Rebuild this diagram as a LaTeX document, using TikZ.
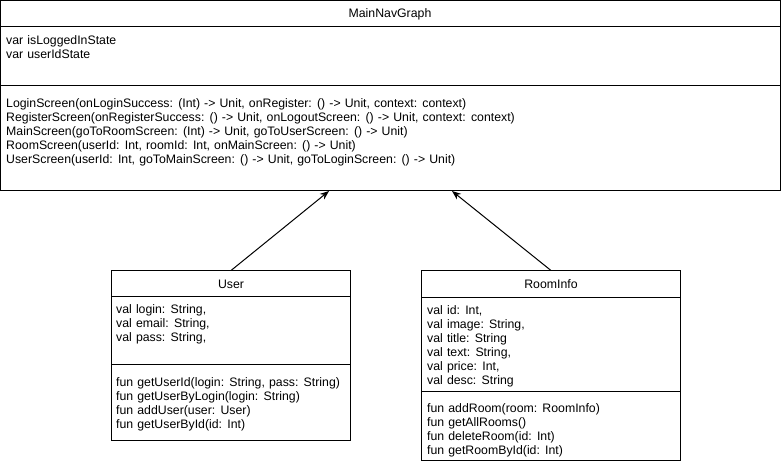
\documentclass[tikz,border=0pt]{standalone}
\usepackage{fontspec}
\setmainfont[WordSpace=1.2]{Liberation Sans}
\usetikzlibrary{arrows.meta}
\begin{document}
\begin{tikzpicture}[x=1pt,y=-1pt,
  box/.style={draw, line width=1pt, anchor=north west, inner sep=0pt, outer sep=0pt},
  txt/.style={anchor=base west, inner sep=0pt, font=\fontsize{12.3}{14}\selectfont},
  ttl/.style={anchor=base, inner sep=0pt, font=\fontsize{12.3}{14}\selectfont},
  divider/.style={line width=1pt},
  inh/.style={line width=1pt, -{Stealth[length=9pt,width=7pt]}}]
\useasboundingbox (0,0) rectangle (781,464);

% MainNavGraph
\node[box, minimum width=780pt, minimum height=190pt] (main) at (0.5,0.5) {};
\draw[divider] ([yshift=-26pt]main.north west) -- ([yshift=-26pt]main.north east);
\draw[divider] ([yshift=-85pt]main.north west) -- ([yshift=-85pt]main.north east);
\node[ttl] (mainT) at (390,17.5) {MainNavGraph};
\node[txt] (ma1) at (6,44.3) {var isLoggedInState};
\node[txt] (ma2) at (6,58.3) {var userIdState};
\node[txt] (mm1) at (6,107.5) {LoginScreen(onLoginSuccess: (Int) -> Unit, onRegister: () -> Unit, context: context)};
\node[txt] (mm2) at (6,121.5) {RegisterScreen(onRegisterSuccess: () -> Unit, onLogoutScreen: () -> Unit, context: context)};
\node[txt] (mm3) at (6,135.5) {MainScreen(goToRoomScreen: (Int) -> Unit, goToUserScreen: () -> Unit)};
\node[txt] (mm4) at (6,149.5) {RoomScreen(userId: Int, roomId: Int, onMainScreen: () -> Unit)};
\node[txt] (mm5) at (6,163.5) {UserScreen(userId: Int, goToMainScreen: () -> Unit, goToLoginScreen: () -> Unit)};

% User
\node[box, minimum width=239pt, minimum height=170pt] (user) at (111.5,270.5) {};
\draw[divider] ([yshift=-26pt]user.north west) -- ([yshift=-26pt]user.north east);
\draw[divider] ([yshift=-94pt]user.north west) -- ([yshift=-94pt]user.north east);
\node[ttl] (userT) at (231,288.5) {User};
\node[txt] (ua1) at (116,313.3) {val login: String,};
\node[txt] (ua2) at (116,327.3) {val email: String,};
\node[txt] (ua3) at (116,341.3) {val pass: String,};
\node[txt] (um1) at (116,386.3) {fun getUserId(login: String, pass: String)};
\node[txt] (um2) at (116,400.3) {fun getUserByLogin(login: String)};
\node[txt] (um3) at (116,414.3) {fun addUser(user: User)};
\node[txt] (um4) at (116,428.3) {fun getUserById(id: Int)};

% RoomInfo
\node[box, minimum width=259pt, minimum height=190pt] (room) at (421.5,270.5) {};
\draw[divider] ([yshift=-27pt]room.north west) -- ([yshift=-27pt]room.north east);
\draw[divider] ([yshift=-121pt]room.north west) -- ([yshift=-121pt]room.north east);
\node[ttl] (roomT) at (551,288.5) {RoomInfo};
\node[txt] (ra1) at (427,314.5) {val id: Int,};
\node[txt] (ra2) at (427,328.5) {val image: String,};
\node[txt] (ra3) at (427,342.5) {val title: String};
\node[txt] (ra4) at (427,356.5) {val text: String,};
\node[txt] (ra5) at (427,370.5) {val price: Int,};
\node[txt] (ra6) at (427,384.5) {val desc: String};
\node[txt] (rm1) at (427,412.3) {fun addRoom(room: RoomInfo)};
\node[txt] (rm2) at (427,426.3) {fun getAllRooms()};
\node[txt] (rm3) at (427,440.3) {fun deleteRoom(id: Int)};
\node[txt] (rm4) at (427,454.3) {fun getRoomById(id: Int)};

% connectors
\coordinate (tipU) at (329,191);
\coordinate (tipR) at (452,191);
\draw[inh] (user.north) -- (tipU);
\draw[inh] (room.north) -- (tipR);
\end{tikzpicture}
\end{document}
